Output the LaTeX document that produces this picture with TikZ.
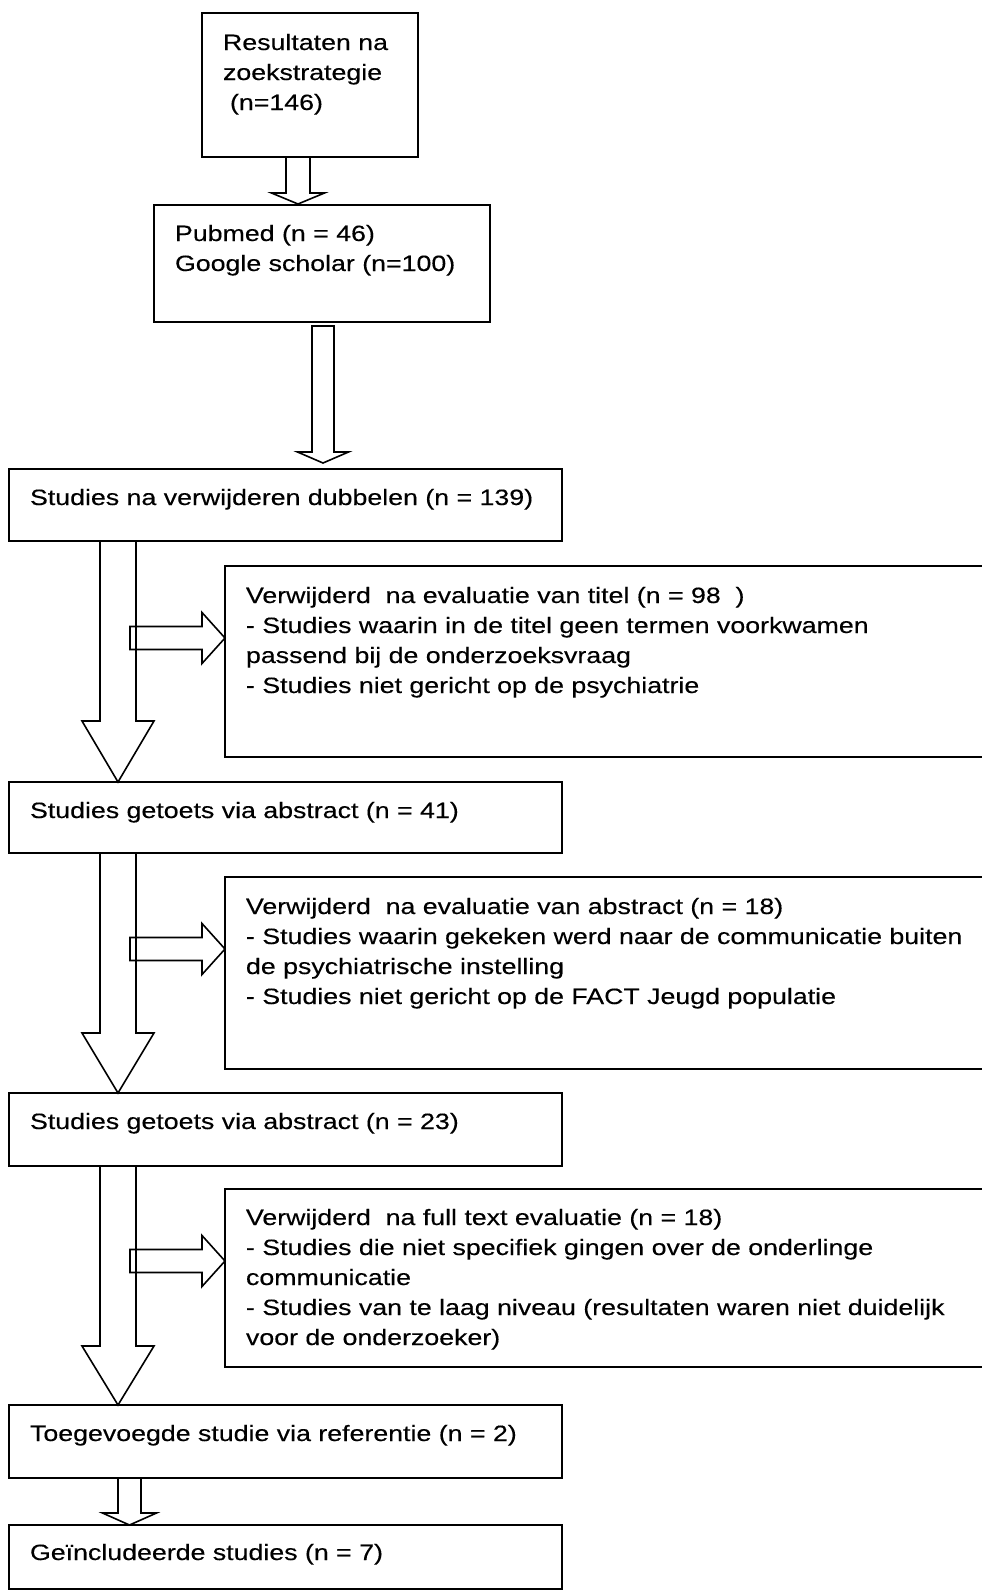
\documentclass[tikz,border=0pt]{standalone}
\usepackage{fontspec}
\setmainfont{Liberation Sans}[FakeStretch=1.205,FakeBold=0.3]
\usetikzlibrary{calc}
\newcommand\dblk[5]{\draw[blk] ($(#1)+(-#3,0)$) -- ($(#2)+(-#3,-#5)$) -- ($(#2)+(-#4,-#5)$) -- (#2) -- ($(#2)+(#4,-#5)$) -- ($(#2)+(#3,-#5)$) -- ($(#1)+(#3,0)$) -- cycle;}
\newcommand\rblk[5]{\draw[blk] ($(#1)+(0,-#3)$) -- ($(#2)+(-#5,-#3)$) -- ($(#2)+(-#5,-#4)$) -- (#2) -- ($(#2)+(-#5,#4)$) -- ($(#2)+(-#5,#3)$) -- ($(#1)+(0,#3)$) -- cycle;}
\begin{document}
\begin{tikzpicture}[x=1pt,y=-1pt,
  box/.style={draw,line width=1.6pt,inner sep=0pt,outer sep=0pt,anchor=north west},
  txt/.style={anchor=base west,inner sep=0pt,outer sep=0pt,align=left,text width=760pt,font=\fontsize{22.2}{30}\selectfont},
  blk/.style={draw,line width=1.6pt,line join=miter}]
\useasboundingbox (0,0) rectangle (982,1590);
\clip (0,0) rectangle (982,1590);
% boxes
\node[box,minimum width=216pt,minimum height=144pt] (b1) at (202,13) {};
\node[box,minimum width=336pt,minimum height=117pt] (b2) at (154,205) {};
\node[box,minimum width=553pt,minimum height=72pt] (b3) at (9,469) {};
\node[box,minimum width=800pt,minimum height=191pt] (s1) at (225,566) {};
\node[box,minimum width=553pt,minimum height=71pt] (b4) at (9,782) {};
\node[box,minimum width=800pt,minimum height=192pt] (s2) at (225,877) {};
\node[box,minimum width=553pt,minimum height=73pt] (b5) at (9,1093) {};
\node[box,minimum width=800pt,minimum height=178pt] (s3) at (225,1189) {};
\node[box,minimum width=553pt,minimum height=73pt] (b6) at (9,1405) {};
\node[box,minimum width=553pt,minimum height=64pt] (b7) at (9,1525) {};
% texts
\node[txt] (t1) at ($(b1.north west)+(21,37)$) {Resultaten na\\zoekstrategie\\\hspace*{7pt}(n=146)};
\node[txt] (t2) at ($(b2.north west)+(21,36)$) {Pubmed (n = 46)\\Google scholar (n=100)};
\node[txt] (t3) at ($(b3.north west)+(21,36)$) {Studies na verwijderen dubbelen (n = 139)};
\node[txt] (ts1) at ($(s1.north west)+(21,37)$) {Verwijderd\ \ na evaluatie van titel (n = 98\ \ )\\- Studies waarin in de titel geen termen voorkwamen\\passend bij de onderzoeksvraag\\- Studies niet gericht op de psychiatrie};
\node[txt] (t4) at ($(b4.north west)+(21,36)$) {Studies getoets via abstract (n = 41)};
\node[txt] (ts2) at ($(s2.north west)+(21,37)$) {Verwijderd\ \ na evaluatie van abstract (n = 18)\\- Studies waarin gekeken werd naar de communicatie buiten\\de psychiatrische instelling\\- Studies niet gericht op de FACT Jeugd populatie};
\node[txt] (t5) at ($(b5.north west)+(21,36)$) {Studies getoets via abstract (n = 23)};
\node[txt] (ts3) at ($(s3.north west)+(21,36)$) {Verwijderd\ \ na full text evaluatie (n = 18)\\- Studies die niet specifiek gingen over de onderlinge\\communicatie\\- Studies van te laag niveau (resultaten waren niet duidelijk\\voor de onderzoeker)};
\node[txt] (t6) at ($(b6.north west)+(21,36)$) {Toegevoegde studie via referentie (n = 2)};
\node[txt] (t7) at ($(b7.north west)+(21,35)$) {Geïncludeerde studies (n = 7)};
% down block arrows
\coordinate (a1s) at ($(b1.south west)+(96,0)$);
\coordinate (a1t) at ($(b2.north west)+(144,-1)$);
\dblk{a1s}{a1t}{12}{26.5}{11}
\coordinate (a2s) at ($(b2.south west)+(169,4)$);
\coordinate (a2t) at ($(b3.north west)+(314,-6)$);
\dblk{a2s}{a2t}{11}{25.5}{11}
\coordinate (a3s) at ($(b3.south west)+(109,0)$);
\coordinate (a3t) at ($(b4.north west)+(109,0)$);
\dblk{a3s}{a3t}{18}{36}{61}
\coordinate (a4s) at ($(b4.south west)+(109,0)$);
\coordinate (a4t) at ($(b5.north west)+(109,0)$);
\dblk{a4s}{a4t}{18}{36}{60}
\coordinate (a5s) at ($(b5.south west)+(109,0)$);
\coordinate (a5t) at ($(b6.north west)+(109,0)$);
\dblk{a5s}{a5t}{18}{36}{59}
\coordinate (a6s) at ($(b6.south west)+(120.5,0)$);
\coordinate (a6t) at ($(b7.north west)+(120.5,0)$);
\dblk{a6s}{a6t}{11.5}{27}{12}
% side block arrows
\coordinate (r1t) at ($(s1.north west)+(0,72)$);
\coordinate (r1s) at ($(r1t)+(-95,0)$);
\rblk{r1s}{r1t}{11.5}{25.5}{23}
\coordinate (r2t) at ($(s2.north west)+(0,72)$);
\coordinate (r2s) at ($(r2t)+(-95,0)$);
\rblk{r2s}{r2t}{11.5}{25.5}{23}
\coordinate (r3t) at ($(s3.north west)+(0,72)$);
\coordinate (r3s) at ($(r3t)+(-95,0)$);
\rblk{r3s}{r3t}{11.5}{25.5}{23}
\end{tikzpicture}
\end{document}
